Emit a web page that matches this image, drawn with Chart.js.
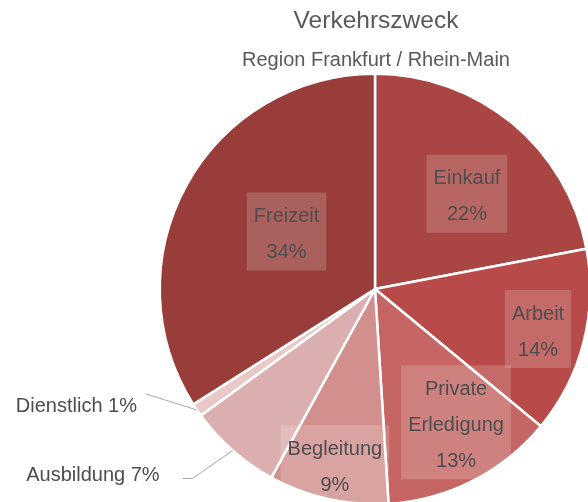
<!DOCTYPE html>
<html>
<head>
<meta charset="utf-8">
<script src="https://cdn.jsdelivr.net/npm/chart.js@4"></script>
<style>
  html, body { margin: 0; padding: 0; background: #fff; overflow: hidden; width: 588px; height: 502px; }
  #wrap { position: absolute; left: 0; top: 0; width: 750px; height: 580px; }
</style>
</head>
<body>
<div id="wrap"><canvas id="myChart" width="750" height="580"></canvas></div>
<script>
const titleText = 'Verkehrszweck'
const subtitleText = 'Region Frankfurt / Rhein-Main'

// trip purposes, clockwise from 12 o'clock
const categories = ['Einkauf', 'Arbeit', 'Private Erledigung', 'Begleitung', 'Ausbildung', 'Dienstlich', 'Freizeit']
const shares = [22, 14, 13, 9, 7, 1, 34]

const sliceColors = ['#a94543', '#b84b49', '#c56664', '#d18f8e', '#dbafaf', '#e9c8c8', '#983d3a']

const FONT = '"Liberation Sans", Arial, sans-serif'
const TEXT_COLOR = '#4d4d4d'

// where each inside label sits: fraction of radius and angle nudge (deg)
const insideLabels = {
    0: { r: 0.615, nudge: 4.4 },
    1: { r: 0.78, nudge: -0.6 },
    2: { r: 0.725, nudge: -4.3 },
    3: { r: 0.835, nudge: 0.3 },
    6: { r: 0.49, nudge: 4.2 }
}
// leader lines for the small slices, offsets from the arc edge
const outsideLabels = {
    5: { bend: [-51, -16], end: [-51, -16], tx: -60, ty: -4 },
    4: { bend: [-40, 28], end: [-50, 28], tx: -73, ty: 25 }
}

const labelPlugin = {
    id: 'sliceLabels',
    afterDatasetsDraw(chart) {
        const ctx = chart.ctx
        const meta = chart.getDatasetMeta(0)
        const total = shares.reduce((a, b) => a + b, 0)

        ctx.save()
        // titles
        ctx.fillStyle = '#595959'
        ctx.textAlign = 'center'
        ctx.textBaseline = 'alphabetic'
        ctx.font = '24.5px ' + FONT
        ctx.fillText(titleText, 376, 28)
        ctx.font = '20px ' + FONT
        ctx.fillText(subtitleText, 376, 66)

        ctx.font = '20px ' + FONT
        ctx.textBaseline = 'middle'
        meta.data.forEach((arc, i) => {
            const pct = Math.round(shares[i] / total * 100) + '%'
            const mid = (arc.startAngle + arc.endAngle) / 2
            if (insideLabels[i]) {
                const cfg = insideLabels[i]
                const a = mid + cfg.nudge * Math.PI / 180
                const cx = arc.x + Math.cos(a) * arc.outerRadius * cfg.r
                const cy = arc.y + Math.sin(a) * arc.outerRadius * cfg.r
                const lines = categories[i].split(' ').concat([pct])
                const w = Math.max(...lines.map(l => ctx.measureText(l).width)) + 14
                const lineH = 36
                const h = (lines.length - 1) * lineH + 42
                ctx.fillStyle = 'rgba(255, 255, 255, 0.18)'
                ctx.fillRect(cx - w / 2, cy - h / 2, w, h)
                ctx.fillStyle = TEXT_COLOR
                ctx.textAlign = 'center'
                lines.forEach((l, k) => {
                    ctx.fillText(l, cx, cy + 3 + (k - (lines.length - 1) / 2) * lineH)
                })
            } else if (outsideLabels[i]) {
                const cfg = outsideLabels[i]
                const ex = arc.x + Math.cos(mid) * arc.outerRadius
                const ey = arc.y + Math.sin(mid) * arc.outerRadius
                ctx.strokeStyle = '#a6a6a6'
                ctx.lineWidth = 1
                ctx.beginPath()
                ctx.moveTo(ex, ey)
                ctx.lineTo(ex + cfg.bend[0], ey + cfg.bend[1])
                ctx.lineTo(ex + cfg.end[0], ey + cfg.end[1])
                ctx.stroke()
                ctx.fillStyle = TEXT_COLOR
                ctx.textAlign = 'right'
                ctx.fillText(categories[i] + ' ' + pct, ex + cfg.tx, ey + cfg.ty)
            }
        })
        ctx.restore()
    }
}

let ctx = document.getElementById('myChart').getContext('2d')
let myChart = new Chart(ctx, {
    type: 'pie',
    data: {
        labels: categories,
        datasets: [{
            data: shares,
            backgroundColor: sliceColors,
            borderColor: '#ffffff',
            borderWidth: 2.5
        }]
    },
    options: {
        responsive: false,
        animation: false,
        layout: { padding: { top: 72.5, bottom: 74.5, left: 0, right: 0 } },
        plugins: {
            legend: { display: false },
            tooltip: { enabled: false }
        }
    },
    plugins: [labelPlugin]
})
</script>
</body>
</html>
